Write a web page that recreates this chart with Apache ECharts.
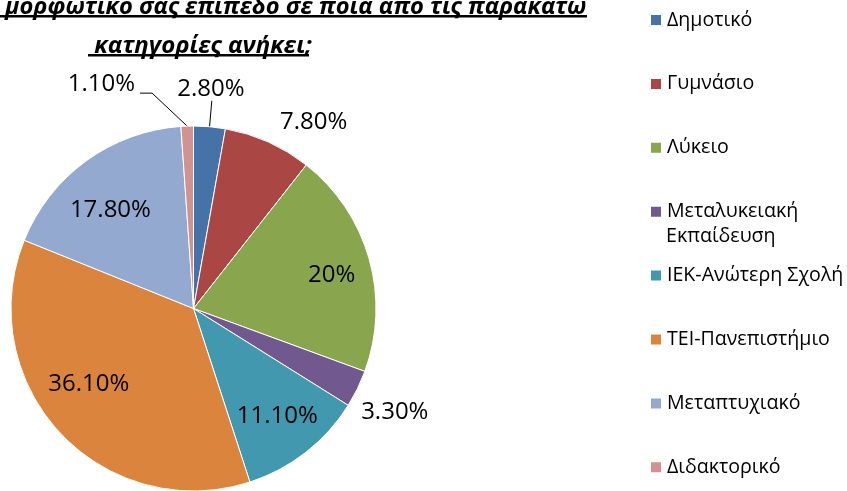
<!DOCTYPE html>
<html>
<head>
<meta charset="utf-8">
<script src="https://cdn.jsdelivr.net/npm/echarts@6/dist/echarts.min.js"></script>
<style>
html,body{margin:0;padding:0;background:#fff;}
#chart{width:847px;height:491px;}
</style>
</head>
<body>
<div id="chart"></div>
<script>
const titleLine1 = 'μορφωτικό σας επίπεδο σε ποια από τις παρακάτω';
const titleLine2 = 'κατηγορίες ανήκει;';
const categories = ['Δημοτικό','Γυμνάσιο','Λύκειο','Μεταλυκειακή Εκπαίδευση','ΙΕΚ-Ανώτερη Σχολή','ΤΕΙ-Πανεπιστήμιο','Μεταπτυχιακό','Διδακτορικό'];
const values = [2.8, 7.8, 20, 3.3, 11.1, 36.1, 17.8, 1.1];
const colors = ['#4572A7','#AA4643','#89A54E','#71588F','#4198AF','#DB843D','#93A9CF','#D19392'];
const outsideIdx = [0, 1, 3, 7];

const FONT = '"Open Sans", sans-serif';
function fmt(v){ return (Math.round(v) === v ? v : v.toFixed(2)) + '%'; }

const outsideCfg = {
  0: {len: 26, len2: 0, line: true},
  1: {len: 17, len2: 0, line: false},
  3: {len: 45, len2: 0, line: false},
  7: {len: 33, len2: 46, line: true}
};
// small nudges of the labels, as Excel's best-fit placement does
const outerNudge = {0: [-6, 0], 1: [0, -4], 3: [-8, 4], 7: [0, 3]};
const innerNudge = {2: [7, 4], 5: [-5, -17], 6: [-3, 12]};

const mainData = categories.map((c, i) => {
  const d = {name: c, value: values[i], itemStyle: {color: colors[i]}};
  if (outsideCfg[i]) {
    const o = outsideCfg[i];
    d.label = {show: true};
    d.labelLine = {show: o.line, length: o.len, length2: o.len2};
  } else {
    d.label = {show: false};
    d.labelLine = {show: false};
  }
  return d;
});
const innerData = categories.map((c, i) => ({
  name: c, value: values[i],
  label: {show: outsideIdx.indexOf(i) < 0}
}));

const chart = echarts.init(document.getElementById('chart'), null, {renderer: 'canvas'});
chart.setOption({
  animation: false,
  backgroundColor: '#fff',
  title: [
    {text: titleLine1, left: 0, top: -12,
     textStyle: {fontFamily: FONT, fontSize: 23.7, fontWeight: 'bold', fontStyle: 'italic', color: '#000', lineHeight: 28}},
    {text: titleLine2, left: 198, textAlign: 'center', top: 27,
     textStyle: {fontFamily: FONT, fontSize: 24, fontWeight: 'bold', fontStyle: 'italic', color: '#000', lineHeight: 28}}
  ],
  graphic: [
    {type: 'rect', shape: {x: 0, y: 15, width: 587, height: 2.5}, style: {fill: '#000'}},
    {type: 'rect', shape: {x: 88, y: 54, width: 221, height: 2.5}, style: {fill: '#000'}},
    {type: 'text', left: 666, top: 226, style: {text: 'Εκπαίδευση', font: '19.6px "Open Sans"', fill: '#000'}}
  ],
  legend: {
    orient: 'vertical',
    left: 649, top: 10,
    padding: 0,
    itemWidth: 12, itemHeight: 12,
    itemGap: 43.9,
    icon: 'rect',
    data: categories,
    formatter: n => n === 'Μεταλυκειακή Εκπαίδευση' ? 'Μεταλυκειακή' : n,
    textStyle: {fontFamily: FONT, fontSize: 19.6, color: '#000', lineHeight: 20, padding: [0,0,0,0]},
    selectedMode: false
  },
  series: [
    {
      type: 'pie',
      center: [193.5, 308.5],
      radius: [0, 182.5],
      startAngle: 90,
      clockwise: true,
      avoidLabelOverlap: false,
      data: mainData,
      itemStyle: {borderColor: '#fff', borderWidth: 1},
      label: {
        position: 'outside',
        formatter: p => fmt(p.value),
        fontFamily: FONT, fontSize: 24, color: '#000'
      },
      labelLine: {lineStyle: {color: '#000', width: 1}},
      labelLayout: function (params) {
        const i = params.dataIndex;
        const n = outerNudge[i] || [0, 0];
        const r = {dx: n[0], dy: n[1]};
        if (i === 0) { r.align = 'center'; r.verticalAlign = 'bottom'; }
        if (i === 3) { r.align = 'center'; }
        if (i === 7) {
          r.verticalAlign = 'bottom';
          const p = params.labelLinePoints;
          if (p) r.labelLinePoints = [p[0], [p[2][0] + 12, p[2][1]], p[2]];
        }
        return r;
      },
      emphasis: {disabled: true}
    },
    {
      type: 'pie',
      center: [193.5, 308.5],
      radius: [84, 182.5],
      startAngle: 90,
      clockwise: true,
      silent: true,
      data: innerData,
      itemStyle: {color: 'rgba(0,0,0,0)', borderWidth: 0},
      label: {
        position: 'inside',
        formatter: p => fmt(p.value),
        fontFamily: FONT, fontSize: 24, color: '#000'
      },
      labelLine: {show: false},
      labelLayout: function (params) {
        const n = innerNudge[params.dataIndex];
        if (n) return {dx: n[0], dy: n[1]};
      },
      emphasis: {disabled: true}
    }
  ]
});
</script>
</body>
</html>
